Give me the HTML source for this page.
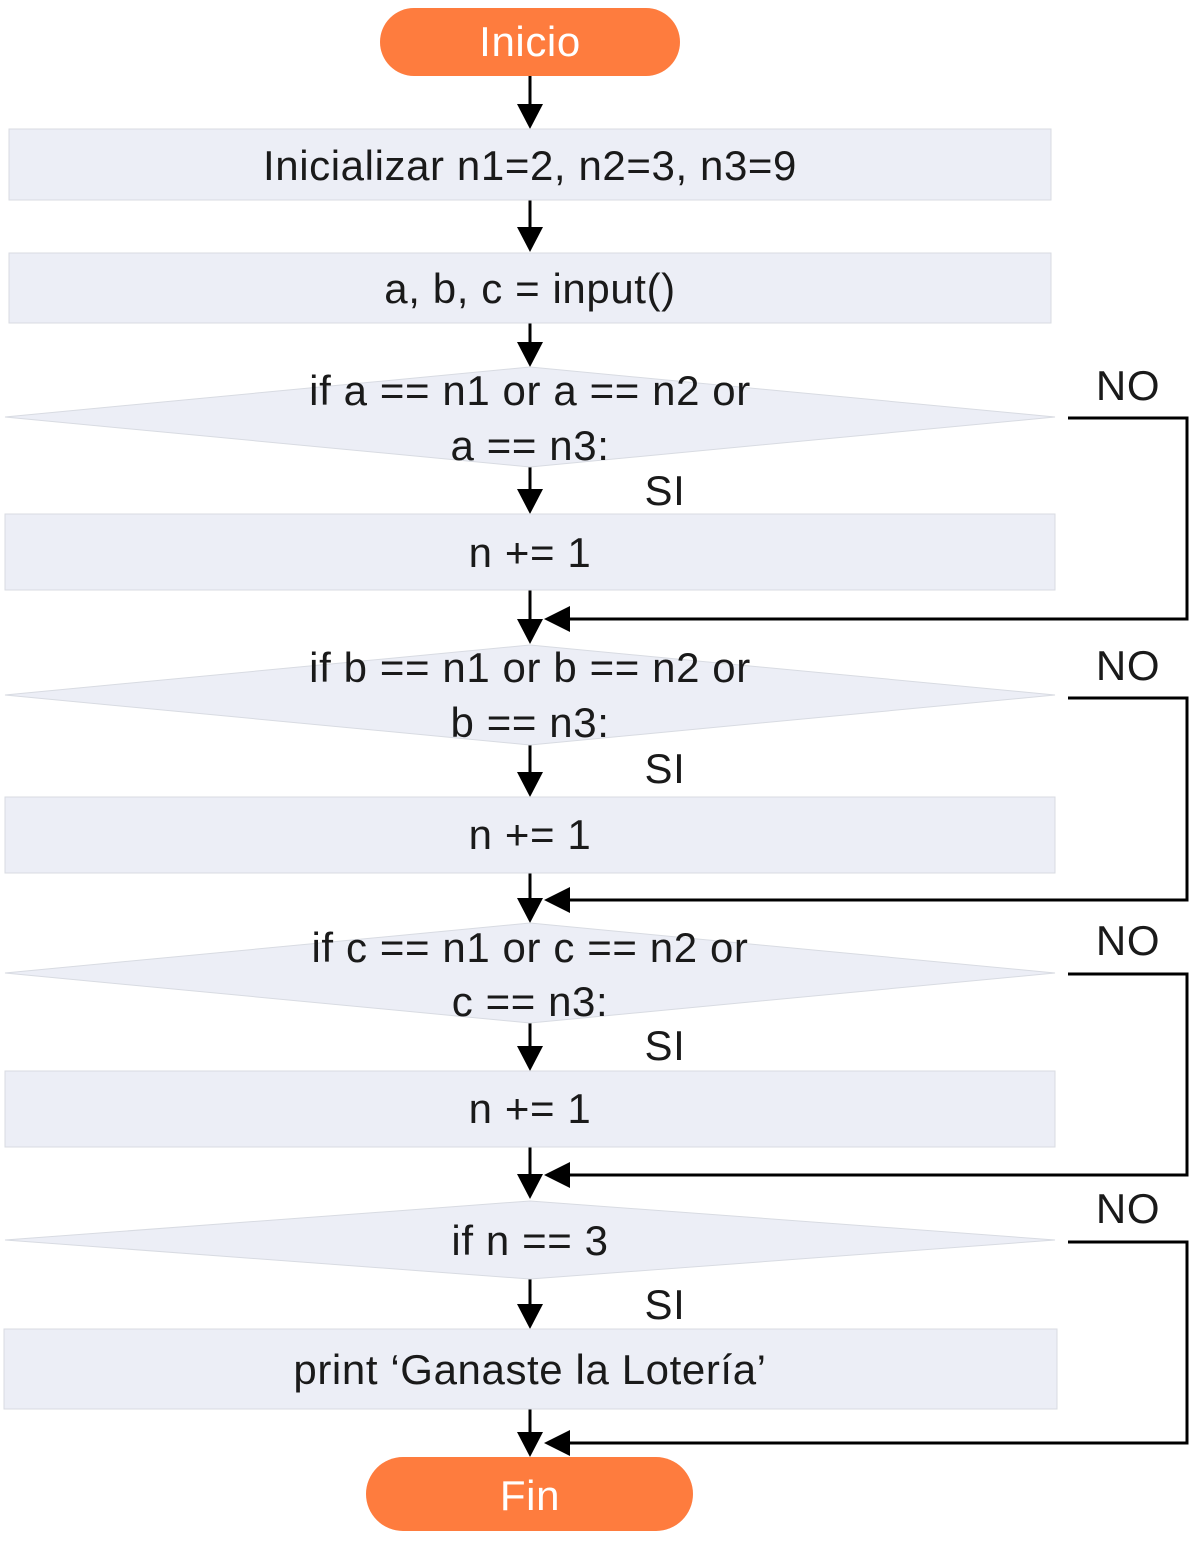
<!DOCTYPE html>
<html><head><meta charset="utf-8"><style>
html,body{margin:0;padding:0;background:#fff;}
svg{display:block;}
text{font-family:"Liberation Sans",sans-serif;fill:#1a1a1a;}
</style></head><body>
<svg width="1189" height="1550" viewBox="0 0 1189 1550">
<g stroke="#000" stroke-width="3" fill="none">
<line x1="530" y1="76" x2="530" y2="108"/>
<line x1="530" y1="200" x2="530" y2="231"/>
<line x1="530" y1="323" x2="530" y2="346"/>
<line x1="530" y1="467" x2="530" y2="493"/>
<line x1="530" y1="590" x2="530" y2="623"/>
<line x1="530" y1="745" x2="530" y2="776"/>
<line x1="530" y1="873" x2="530" y2="902"/>
<line x1="530" y1="1023" x2="530" y2="1050"/>
<line x1="530" y1="1147" x2="530" y2="1178"/>
<line x1="530" y1="1279" x2="530" y2="1308"/>
<line x1="530" y1="1409" x2="530" y2="1436"/>
<polyline points="1068,418 1187,418 1187,619 567,619"/>
<polyline points="1068,698 1187,698 1187,900 567,900"/>
<polyline points="1068,974 1187,974 1187,1175 567,1175"/>
<polyline points="1068,1242 1187,1242 1187,1443 567,1443"/>
</g>
<g fill="#000">
<polygon points="517,104 543,104 530,129"/>
<polygon points="517,227 543,227 530,252"/>
<polygon points="517,342 543,342 530,367"/>
<polygon points="517,489 543,489 530,514"/>
<polygon points="517,619 543,619 530,644"/>
<polygon points="517,772 543,772 530,797"/>
<polygon points="517,898 543,898 530,923"/>
<polygon points="517,1046 543,1046 530,1071"/>
<polygon points="517,1174 543,1174 530,1199"/>
<polygon points="517,1304 543,1304 530,1329"/>
<polygon points="517,1432 543,1432 530,1457"/>
<polygon points="544,619 570,606 570,632"/>
<polygon points="544,900 570,887 570,913"/>
<polygon points="544,1175 570,1162 570,1188"/>
<polygon points="544,1443 570,1430 570,1456"/>
</g>
<g>
<rect x="380" y="8" width="300" height="68" rx="34" fill="#FE7C3E"/>
<text x="530" y="56" font-size="42" letter-spacing="0.6" text-anchor="middle" style="fill:#fff">Inicio</text>
</g>
<g fill="#ECEEF6" stroke="#D8DBE2" stroke-width="1">
<rect x="9" y="129" width="1042" height="71"/>
<rect x="9" y="253" width="1042" height="70"/>
<polygon points="5,417 530,367 1055,417 530,467"/>
<rect x="5" y="514" width="1050" height="76"/>
<polygon points="5,695 530,645 1055,695 530,745"/>
<rect x="5" y="797" width="1050" height="76"/>
<polygon points="5,973 530,923 1055,973 530,1023"/>
<rect x="5" y="1071" width="1050" height="76"/>
<polygon points="5,1240 530,1201 1055,1240 530,1279"/>
<rect x="4" y="1329" width="1053" height="80"/>
</g>
<g font-size="42" letter-spacing="0.6" text-anchor="middle">
<text x="530" y="180">Inicializar n1=2, n2=3, n3=9</text>
<text x="530" y="303">a, b, c = input()</text>
<text x="530" y="405">if a == n1 or a == n2 or</text>
<text x="530" y="460">a == n3:</text>
<text x="530" y="567">n += 1</text>
<text x="530" y="682">if b == n1 or b == n2 or</text>
<text x="530" y="737">b == n3:</text>
<text x="530" y="849">n += 1</text>
<text x="530" y="962">if c == n1 or c == n2 or</text>
<text x="530" y="1016">c == n3:</text>
<text x="530" y="1123">n += 1</text>
<text x="530" y="1255">if n == 3</text>
<text x="530" y="1384">print ‘Ganaste la Lotería’</text>
<text x="665" y="505">SI</text>
<text x="665" y="783">SI</text>
<text x="665" y="1060">SI</text>
<text x="665" y="1319">SI</text>
<text x="1128" y="400">NO</text>
<text x="1128" y="680">NO</text>
<text x="1128" y="955">NO</text>
<text x="1128" y="1223">NO</text>
</g>
<g>
<rect x="366" y="1457" width="327" height="74" rx="37" fill="#FE7C3E"/>
<text x="530" y="1510" font-size="42" letter-spacing="0.6" text-anchor="middle" style="fill:#fff">Fin</text>
</g>
</svg>
</body></html>
